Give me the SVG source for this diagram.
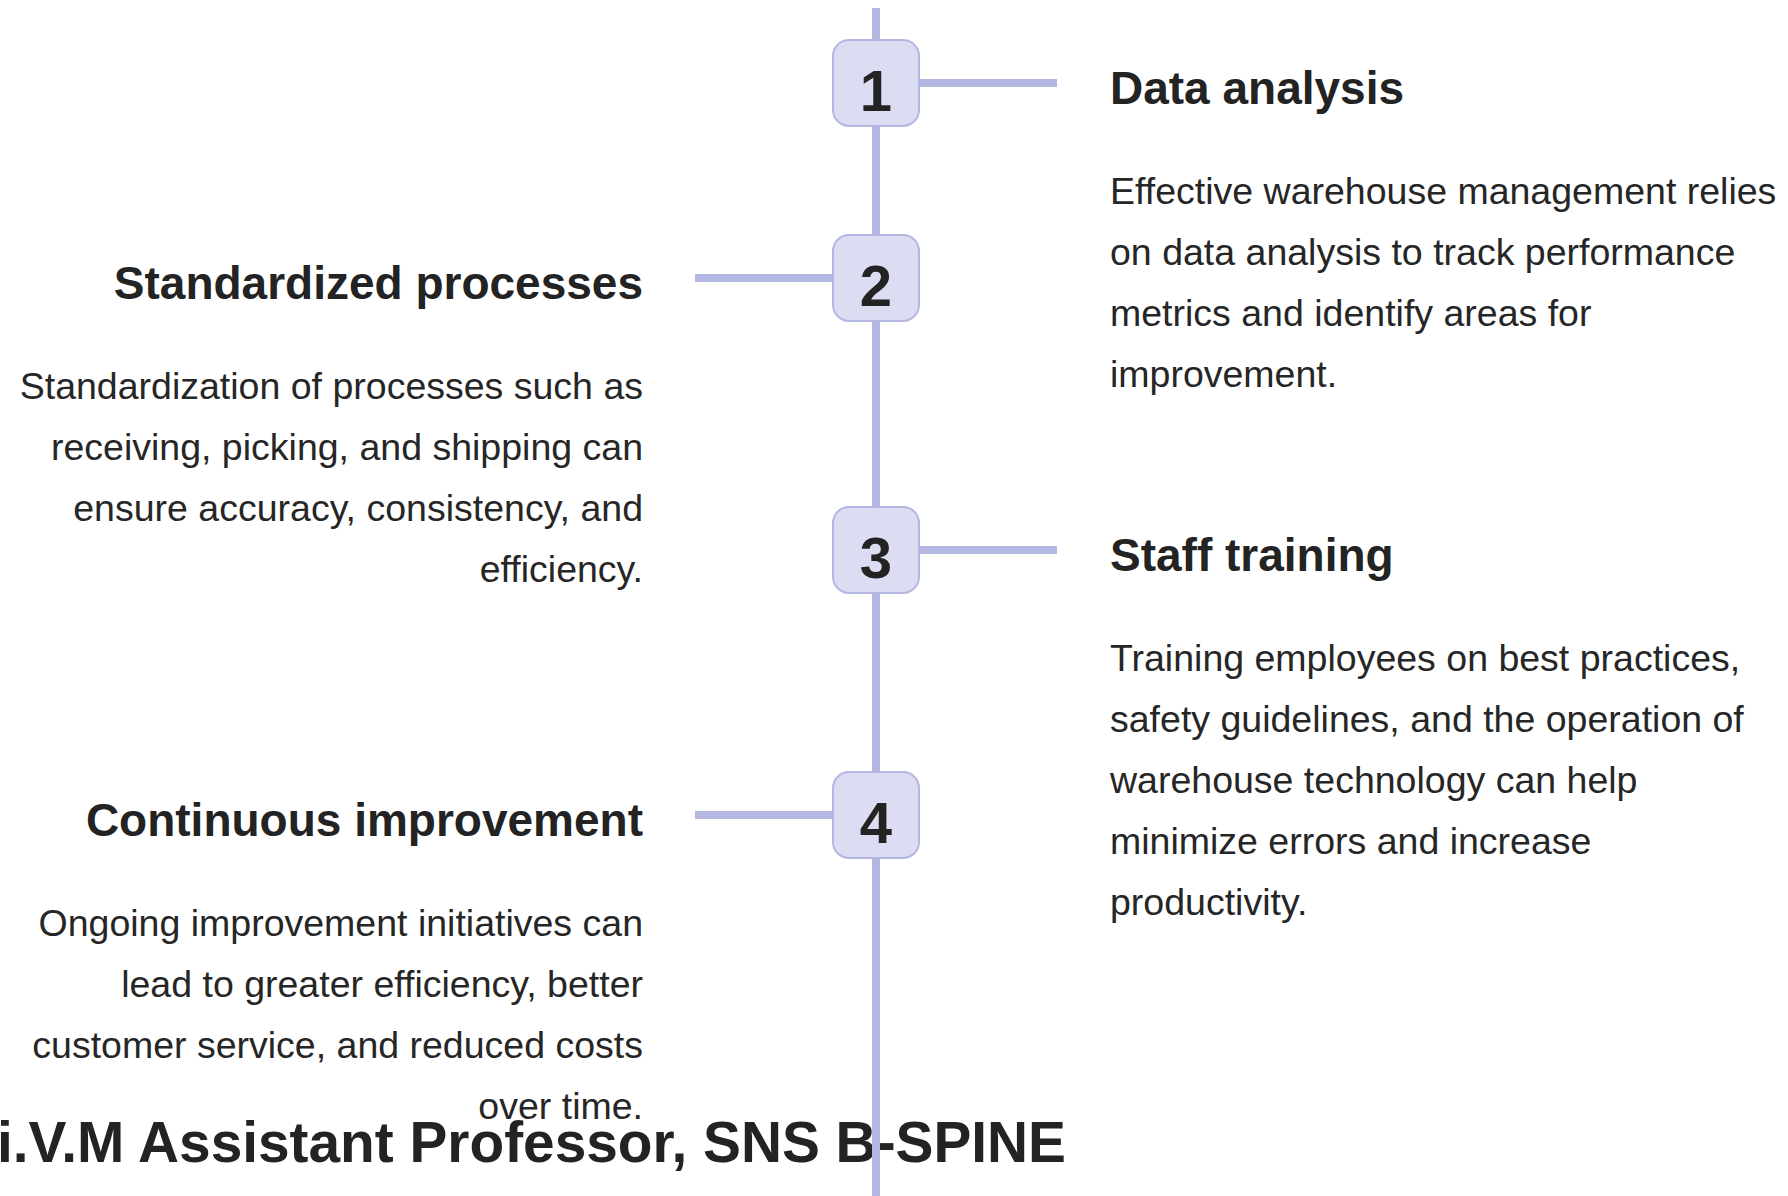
<svg xmlns="http://www.w3.org/2000/svg" width="1788" height="1196" viewBox="0 0 1788 1196">
  <defs>
    <style>
      .title { font-family: "Liberation Sans", Arial, sans-serif; font-weight: bold; font-size: 46px; fill: #232323; }
      .body { font-family: "Liberation Sans", Arial, sans-serif; font-size: 37.5px; fill: #262626; }
      .num { font-family: "Liberation Sans", Arial, sans-serif; font-weight: bold; font-size: 58px; fill: #232323; text-anchor: middle; }
      .footer { font-family: "Liberation Sans", Arial, sans-serif; font-weight: bold; font-size: 56.8px; fill: #232323; }
      .line { stroke: #b5b7e3; stroke-width: 8; fill: none; }
      .box { fill: #dcdcf2; stroke: #b5b7e3; stroke-width: 2; }
      .left { text-anchor: end; }
    </style>
  </defs>
  <rect width="1788" height="1196" fill="#ffffff"/>

  <text class="footer" x="1066" y="1162" text-anchor="end">i.V.M Assistant Professor, SNS B-SPINE</text>

  <g id="connectors">
    <line class="line" x1="876" y1="8" x2="876" y2="1196"/>
    <line class="line" x1="920" y1="83" x2="1057" y2="83"/>
    <line class="line" x1="695" y1="278" x2="832" y2="278"/>
    <line class="line" x1="920" y1="550" x2="1057" y2="550"/>
    <line class="line" x1="695" y1="815" x2="832" y2="815"/>
  </g>

  <g id="node1">
    <rect class="box" x="833" y="40" width="86" height="86" rx="16"/>
    <text class="num" x="876" y="111">1</text>
    <text class="title" x="1110" y="103.5">Data analysis</text>
    <text class="body" x="1110" y="203.5">Effective warehouse management relies</text>
    <text class="body" x="1110" y="264.7">on data analysis to track performance</text>
    <text class="body" x="1110" y="325.9">metrics and identify areas for</text>
    <text class="body" x="1110" y="387.1">improvement.</text>
  </g>

  <g id="node2">
    <rect class="box" x="833" y="235" width="86" height="86" rx="16"/>
    <text class="num" x="876" y="306">2</text>
    <text class="title left" x="643" y="298.5">Standardized processes</text>
    <text class="body left" x="643" y="398.5">Standardization of processes such as</text>
    <text class="body left" x="643" y="459.7">receiving, picking, and shipping can</text>
    <text class="body left" x="643" y="520.9">ensure accuracy, consistency, and</text>
    <text class="body left" x="643" y="582.1">efficiency.</text>
  </g>

  <g id="node3">
    <rect class="box" x="833" y="507" width="86" height="86" rx="16"/>
    <text class="num" x="876" y="578">3</text>
    <text class="title" x="1110" y="570.5">Staff training</text>
    <text class="body" x="1110" y="670.5">Training employees on best practices,</text>
    <text class="body" x="1110" y="731.7">safety guidelines, and the operation of</text>
    <text class="body" x="1110" y="792.9">warehouse technology can help</text>
    <text class="body" x="1110" y="854.1">minimize errors and increase</text>
    <text class="body" x="1110" y="915.3">productivity.</text>
  </g>

  <g id="node4">
    <rect class="box" x="833" y="772" width="86" height="86" rx="16"/>
    <text class="num" x="876" y="843">4</text>
    <text class="title left" x="643" y="835.5">Continuous improvement</text>
    <text class="body left" x="643" y="935.5">Ongoing improvement initiatives can</text>
    <text class="body left" x="643" y="996.7">lead to greater efficiency, better</text>
    <text class="body left" x="643" y="1057.9">customer service, and reduced costs</text>
    <text class="body left" x="643" y="1119.1">over time.</text>
  </g>
</svg>
